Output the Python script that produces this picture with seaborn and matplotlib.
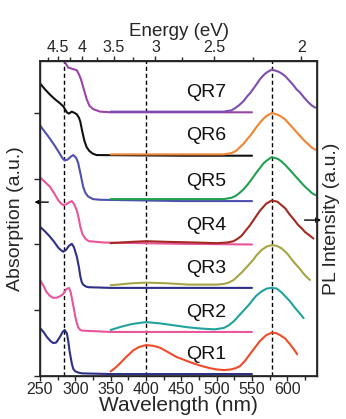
import numpy as np
import pandas as pd
import matplotlib
matplotlib.use("Agg")
import matplotlib.pyplot as plt
import seaborn as sns

sns.set_theme(style="ticks")
plt.rcParams['font.family'] = ['Liberation Sans', 'DejaVu Sans']

# ---------------- data ----------------
names = ["QR1", "QR2", "QR3", "QR4", "QR5", "QR6", "QR7"]
offsets = [0.03, 0.67, 1.34, 1.99, 2.66, 3.35, 4.01]

abs_wl = {
    "QR1": [250, 255, 260, 265, 269, 273, 278, 282, 285, 288, 290, 292, 295, 297, 300, 305, 310, 350, 450, 550],
    "QR2": [250, 255, 259, 264, 268, 273, 278, 283, 287, 291, 293, 295, 298, 300, 302, 304, 307, 310, 350, 450, 550],
    "QR3": [250, 257, 264, 270, 276, 280, 283, 287, 291, 295, 298, 302, 305, 307, 309, 311, 315, 319, 350, 450, 550],
    "QR4": [250, 257, 264, 270, 276, 280, 283, 287, 291, 295, 298, 302, 305, 307, 310, 314, 319, 330, 340, 450, 550],
    "QR5": [250, 257, 264, 271, 278, 282, 285, 289, 293, 297, 301, 304, 308, 311, 314, 318, 325, 335, 450, 550],
    "QR6": [250, 257, 264, 271, 278, 283, 288, 291, 295, 299, 302, 305, 307, 310, 313, 316, 320, 325, 330, 450, 550],
    "QR7": [272, 278, 284, 290, 296, 302, 305, 308, 312, 316, 320, 325, 330, 335, 350, 450, 550],
}
abs_val = {
    "QR1": [0.70, 0.64, 0.56, 0.50, 0.47, 0.48, 0.56, 0.64, 0.67, 0.62, 0.50, 0.34, 0.16, 0.08, 0.04, 0.02, 0.01, 0.0, 0.0, 0.0],
    "QR2": [0.79, 0.70, 0.61, 0.55, 0.52, 0.52, 0.54, 0.58, 0.65, 0.67, 0.62, 0.52, 0.35, 0.23, 0.14, 0.07, 0.03, 0.02, 0.0, 0.0, 0.0],
    "QR3": [0.93, 0.86, 0.78, 0.70, 0.61, 0.57, 0.55, 0.58, 0.64, 0.67, 0.62, 0.48, 0.32, 0.18, 0.09, 0.05, 0.02, 0.01, 0.0, 0.0, 0.0],
    "QR4": [1.03, 0.96, 0.89, 0.79, 0.68, 0.63, 0.61, 0.62, 0.65, 0.67, 0.63, 0.53, 0.40, 0.28, 0.17, 0.10, 0.06, 0.05, 0.04, 0.02, 0.01],
    "QR5": [1.15, 1.05, 0.95, 0.84, 0.72, 0.65, 0.62, 0.63, 0.67, 0.70, 0.66, 0.58, 0.38, 0.22, 0.13, 0.07, 0.03, 0.02, 0.0, 0.0],
    "QR6": [1.10, 1.01, 0.93, 0.86, 0.80, 0.75, 0.66, 0.64, 0.67, 0.65, 0.63, 0.58, 0.52, 0.36, 0.22, 0.13, 0.07, 0.03, 0.01, 0.0, 0.0],
    "QR7": [0.95, 0.86, 0.78, 0.68, 0.66, 0.64, 0.58, 0.50, 0.35, 0.20, 0.10, 0.05, 0.03, 0.01, 0.0, 0.0, 0.0],
}

pl_wl = {
    "QR1": [350, 356, 363, 372, 382, 390, 400, 410, 420, 430, 443, 460, 476, 490, 500, 510, 520, 527, 533, 540, 547, 554, 561, 570, 578, 585, 590, 597, 604, 609, 614],
    "QR2": [350, 365, 380, 400, 420, 440, 460, 480, 497, 510, 517, 524, 530, 536, 542, 547, 552, 556, 564, 571, 578, 585, 592, 600, 605, 609, 617, 623],
    "QR3": [350, 380, 400, 430, 460, 500, 510, 517, 524, 530, 536, 542, 547, 552, 556, 564, 571, 578, 585, 592, 600, 605, 611, 617, 622, 627, 632],
    "QR4": [350, 380, 400, 430, 470, 500, 515, 524, 530, 535, 541, 547, 554, 561, 570, 578, 586, 597, 603, 610, 615, 620, 625, 630, 637],
    "QR5": [350, 450, 510, 521, 527, 532, 538, 543, 548, 552, 556, 561, 566, 570, 578, 587, 592, 597, 603, 608, 613, 618, 624, 630, 635, 640],
    "QR6": [350, 450, 510, 521, 527, 532, 538, 543, 548, 552, 556, 561, 566, 570, 578, 587, 592, 597, 603, 608, 613, 618, 624, 630, 635, 640],
    "QR7": [350, 450, 510, 521, 527, 532, 538, 543, 548, 552, 556, 561, 566, 570, 578, 587, 592, 597, 603, 608, 613, 618, 624, 630, 635, 640],
}
pl_val = {
    "QR1": [0.04, 0.09, 0.16, 0.26, 0.36, 0.41, 0.44, 0.43, 0.40, 0.34, 0.26, 0.19, 0.13, 0.09, 0.07, 0.06, 0.07, 0.09, 0.12, 0.20, 0.30, 0.40, 0.50, 0.59, 0.63, 0.62, 0.59, 0.54, 0.45, 0.38, 0.30],
    "QR2": [0.03, 0.08, 0.12, 0.15, 0.13, 0.10, 0.07, 0.05, 0.04, 0.06, 0.10, 0.16, 0.23, 0.30, 0.37, 0.43, 0.50, 0.55, 0.62, 0.66, 0.67, 0.66, 0.60, 0.51, 0.45, 0.39, 0.29, 0.21],
    "QR3": [0.04, 0.07, 0.08, 0.07, 0.05, 0.05, 0.06, 0.08, 0.12, 0.18, 0.24, 0.31, 0.37, 0.43, 0.49, 0.58, 0.63, 0.65, 0.64, 0.60, 0.52, 0.45, 0.37, 0.30, 0.23, 0.17, 0.12],
    "QR4": [0.03, 0.05, 0.06, 0.05, 0.04, 0.03, 0.04, 0.06, 0.10, 0.14, 0.22, 0.30, 0.41, 0.52, 0.63, 0.68, 0.66, 0.56, 0.47, 0.38, 0.31, 0.26, 0.20, 0.16, 0.10],
    "QR5": [0.03, 0.03, 0.03, 0.05, 0.08, 0.12, 0.18, 0.24, 0.31, 0.37, 0.43, 0.50, 0.57, 0.61, 0.67, 0.64, 0.60, 0.55, 0.48, 0.42, 0.36, 0.30, 0.23, 0.17, 0.12, 0.09],
    "QR6": [0.02, 0.02, 0.02, 0.04, 0.07, 0.12, 0.18, 0.25, 0.31, 0.37, 0.43, 0.50, 0.56, 0.60, 0.65, 0.62, 0.59, 0.55, 0.48, 0.42, 0.36, 0.30, 0.23, 0.17, 0.12, 0.09],
    "QR7": [0.01, 0.01, 0.01, 0.03, 0.07, 0.11, 0.17, 0.24, 0.30, 0.36, 0.42, 0.50, 0.56, 0.60, 0.65, 0.62, 0.59, 0.55, 0.48, 0.42, 0.35, 0.30, 0.22, 0.15, 0.10, 0.07],
}

abs_colors = {"QR1": "#2e2f86", "QR2": "#e9559a", "QR3": "#2e2f86", "QR4": "#e9559a",
              "QR5": "#4f4fb0", "QR6": "#111111", "QR7": "#9a44a8"}
pl_colors = {"QR1": "#ef4b2a", "QR2": "#21a29c", "QR3": "#a6a444", "QR4": "#a32a22",
             "QR5": "#22a04f", "QR6": "#f08432", "QR7": "#7e4db2"}

wl_ticks = [250, 300, 350, 400, 450, 500, 550, 600]
energy_ticks = [4.5, 4, 3.5, 3, 2.5, 2]
energy_labels = ["4.5", "4", "3.5", "3", "2.5", "2"]
energy_minor = [4.75, 4.25, 3.75, 3.25, 2.75, 2.25]
dash_wl = [284, 400, 578]

# ---------------- figure ----------------
fig = plt.figure(figsize=(3.46, 4.19), dpi=100)
ax = fig.add_axes([0.1156, 0.1026, 0.8006, 0.7518])

for name, off in zip(names, offsets):
    df = pd.DataFrame({"wl": abs_wl[name], "y": np.array(abs_val[name]) + off})
    sns.lineplot(data=df, x="wl", y="y", ax=ax, color=abs_colors[name], lw=1.5, sort=False)
for name, off in zip(names, offsets):
    df = pd.DataFrame({"wl": pl_wl[name], "y": np.array(pl_val[name]) + off})
    sns.lineplot(data=df, x="wl", y="y", ax=ax, color=pl_colors[name], lw=1.5, sort=False)

for x in dash_wl:
    ax.axvline(x, color="black", ls=(0, (3, 2)), lw=1.0, zorder=0.5)

for name, off in zip(names, offsets):
    ax.text(485, off + 0.30, name, fontsize=14, ha="center", va="center", color="#111111")

ax.set_xlim(250, 642)
ax.set_ylim(0, 4.79)
ax.set_xticks(wl_ticks)
ax.set_xticks(np.arange(275, 642, 50), minor=True)
ax.set_yticks([0, 1, 2, 3, 4])
ax.set_yticklabels([])
ax.tick_params(axis="x", which="major", direction="out", length=3.5, width=1, pad=1, labelsize=11.5)
ax.tick_params(axis="x", which="minor", direction="out", length=3, width=1)
ax.tick_params(axis="y", which="major", direction="out", length=4, width=1, left=True)
ax.set_xlabel("Wavelength (nm)", fontsize=15, labelpad=-1)
ax.set_ylabel("Absorption (a.u.)", fontsize=14, labelpad=4)
for s in ax.spines.values():
    s.set_linewidth(1.0)
    s.set_color("#222222")

def wl2e(x):
    x = np.asarray(x, dtype=float)
    with np.errstate(divide="ignore", invalid="ignore"):
        return 1240.0 / x

sec = ax.secondary_xaxis("top", functions=(wl2e, wl2e))
sec.set_xticks(energy_ticks)
sec.set_xticklabels(energy_labels)
sec.set_xticks(energy_minor, minor=True)
sec.tick_params(axis="x", which="major", direction="out", length=3.5, width=1, pad=1, labelsize=11.5)
sec.tick_params(axis="x", which="minor", direction="out", length=3, width=1)
sec.set_xlabel("Energy (eV)", fontsize=13.5, labelpad=3)

ax2 = ax.twinx()
ax2.set_ylim(0, 4.79)
ax2.set_yticks([])
ax2.set_ylabel("PL Intensity (a.u.)", fontsize=14, labelpad=4)

ax.annotate("", xy=(-0.03, 0.552), xytext=(0.04, 0.552), xycoords="axes fraction",
            arrowprops=dict(arrowstyle="-|>", color="black", lw=1, mutation_scale=7),
            annotation_clip=False)
ax.annotate("", xy=(1.025, 0.495), xytext=(0.945, 0.495), xycoords="axes fraction",
            arrowprops=dict(arrowstyle="-|>", color="black", lw=1, mutation_scale=7),
            annotation_clip=False)

fig.savefig("out.png", dpi=100)
